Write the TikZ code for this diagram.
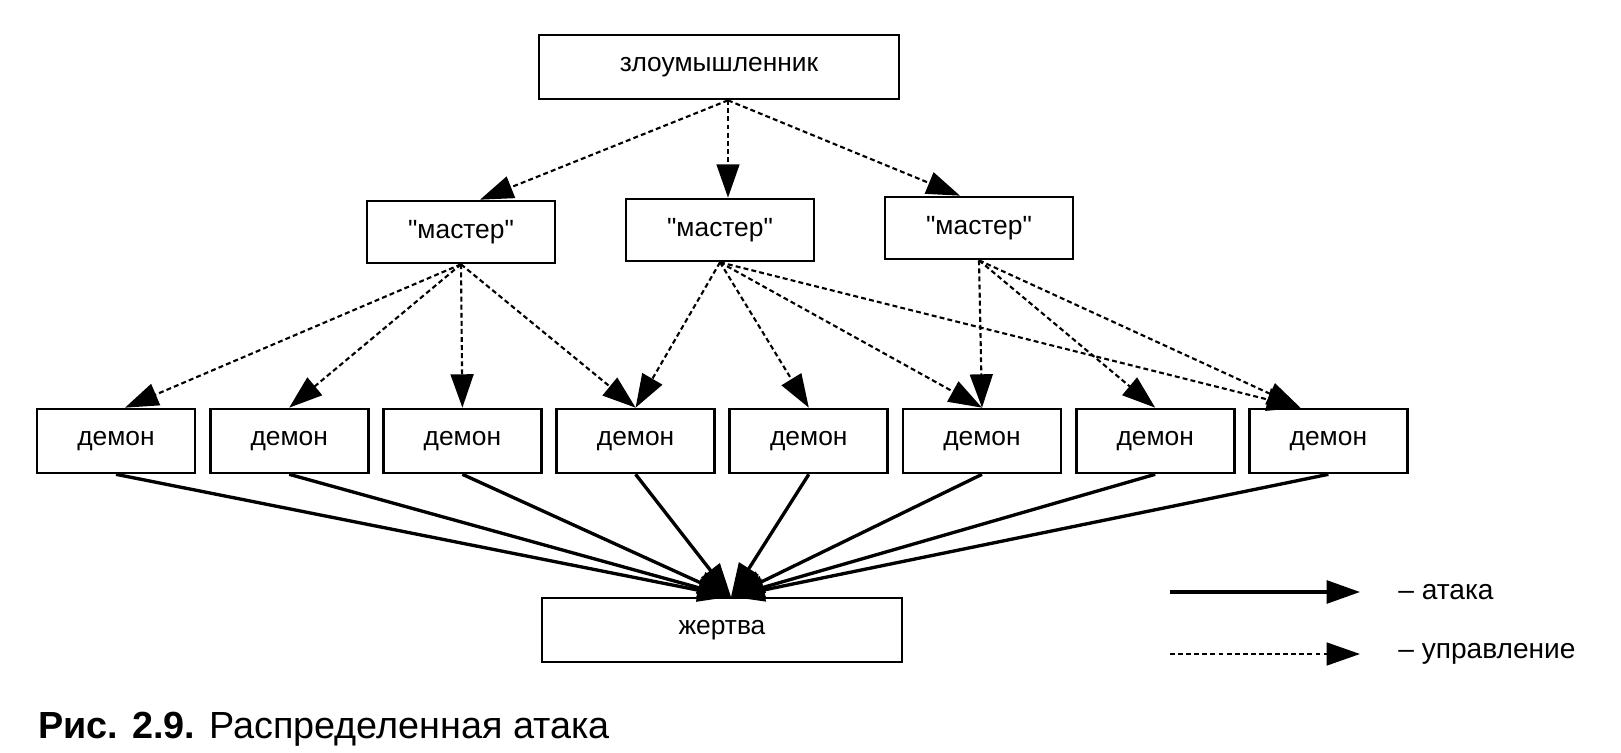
\documentclass[tikz,border=0pt]{standalone}
\usepackage{fontspec}
\setmainfont{Liberation Sans}[Ligatures=TeXOff]
\usetikzlibrary{arrows.meta,calc,positioning}

\tikzset{
  box/.style={draw, line width=1.5pt, inner sep=0pt, font=\fontsize{15}{18}\selectfont},
  demonbox/.style={box, minimum width=31.6mm, minimum height=12.8mm},
  masterbox/.style={box, minimum width=37.6mm, minimum height=12.4mm},
  widebox/.style={box, minimum width=72mm, minimum height=12.8mm},
  ctrl/.style={-{Triangle[length=19pt,width=13pt]}, line width=1.2pt, dash pattern=on 2.8pt off 1.8pt},
  attack/.style={-{Triangle[length=19pt,width=13pt]}, line width=1.9pt},
  legendtext/.style={anchor=west, inner sep=0pt, font=\fontsize{16}{19}\selectfont}
}

\begin{document}
\begin{tikzpicture}[x=0.2mm,y=-0.2mm]
  \useasboundingbox (0,0) rectangle (1621,753);

  % attacker and masters
  \node[widebox] (att) at (719,67) {злоумышленник};
  \node[masterbox] (m1) at (461,232) {"мастер"};
  \node[masterbox] (m2) at (720,230) {"мастер"};
  \node[masterbox] (m3) at (979,228) {"мастер"};

  % demons
  \foreach \i in {1,...,8}
    \node[demonbox] (d\i) at ({116+173.2*(\i-1)},441) {демон};

  \node[widebox] (vic) at (722,630) {жертва};

  % control
  \draw[ctrl] ($(att.south)+(9,0)$) -- ($(m1.north)+(19,0)$);
  \draw[ctrl] ($(att.south)+(9,0)$) -- ($(m2.north)+(8,0)$);
  \draw[ctrl] ($(att.south)+(9,0)$) -- ($(m3.north)+(-19,0)$);
  \draw[ctrl] (m1.south) -- ($(d1.north)+(9,0)$);
  \foreach \m/\d in {m1/d2,m1/d3,m1/d4,m2/d4,m2/d5,m2/d6,m3/d6,m3/d7}
    \draw[ctrl] (\m.south) -- (\d.north);
  \draw[ctrl] (m2.south) -- ($(d8.north)+(-28,0)$);
  \draw[ctrl] (m3.south) -- ($(d8.north)+(-28,0)$);

  % attack
  \foreach \i in {1,...,8}
    \draw[attack] (d\i.south) -- ($(vic.north)+(9,0)$);

  % legend
  \coordinate (la) at (1170,592);
  \coordinate (lb) at (1360,592);
  \coordinate (lc) at (1170,654);
  \coordinate (ld) at (1360,654);
  \draw[attack] (la) -- (lb);
  \draw[ctrl] (lc) -- (ld);
  \node[legendtext] (latk) at (1398,592) {– атака};
  \node[legendtext] (lctl) at (1398,654) {– управление};

  \node[anchor=base west, inner sep=0pt, font=\fontsize{21.5}{25}\selectfont] (cap) at (38,738)
    {\textbf{Рис. 2.9.} Распределенная атака};
\end{tikzpicture}
\end{document}
